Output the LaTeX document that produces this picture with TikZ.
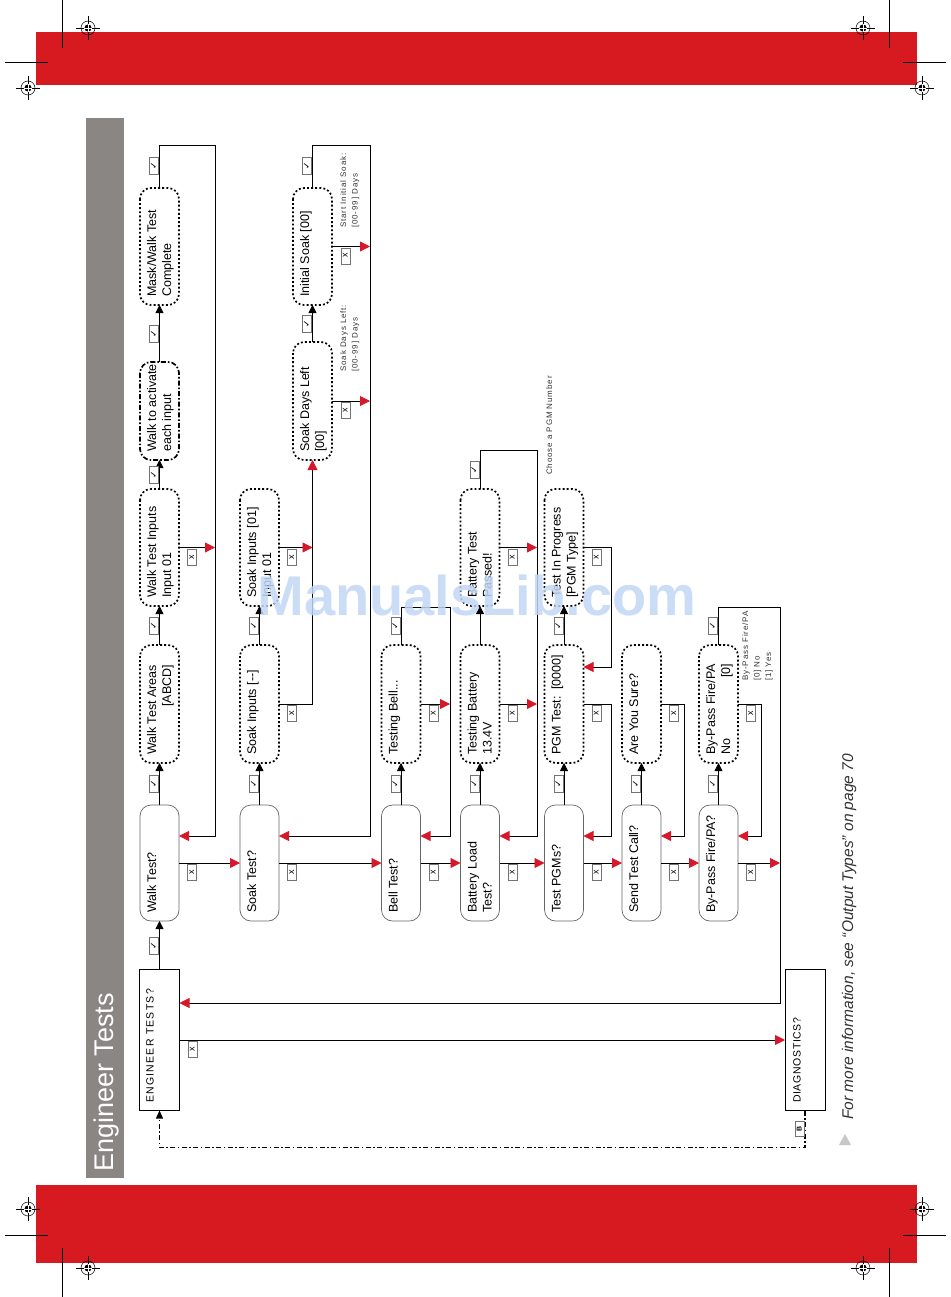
\documentclass[tikz,border=0pt]{standalone}
\usepackage{fontspec}
\setmainfont{Liberation Sans}
\newfontfamily\dejavu{DejaVu Sans}
\newfontfamily\annfont[LetterSpace=11]{Liberation Sans}
\newfontfamily\capsfont[LetterSpace=12]{Liberation Sans}
\newfontfamily\diagfont[LetterSpace=6]{Liberation Sans}
\usetikzlibrary{arrows.meta,calc}
\definecolor{bandred}{HTML}{D71920}
\definecolor{bargray}{HTML}{8A8684}
\definecolor{arrowred}{HTML}{D7182A}
\definecolor{wmblue}{HTML}{C2D8F5}
\definecolor{notegray}{HTML}{333333}
\newcommand\regmark[1]{%
  \draw[line width=0.5pt] (#1) circle[radius=7pt];
  \fill (#1) circle[radius=3.6pt];
  \draw[line width=0.5pt] ($(#1)+(-12,0)$) -- ($(#1)+(12,0)$) ($(#1)+(0,-12)$) -- ($(#1)+(0,12)$);
  \draw[white,line width=0.45pt] ($(#1)+(-3.6,0)$) -- ($(#1)+(3.6,0)$) ($(#1)+(0,-3.6)$) -- ($(#1)+(0,3.6)$);
}
\newcommand\boxtext[2]{\node[boxtxt] (t#1) at ($(#1.north west)+(5.5,-8)$) {\begin{tabular}{@{}l@{}}#2\end{tabular}};}
\begin{document}
\begin{tikzpicture}[x=1pt,y=-1pt,
  solidbox/.style={draw=black!60, line width=0.7pt, rounded corners=11pt, rotate=90, minimum height=39pt, inner sep=0pt, outer sep=0pt},
  dotbox/.style={draw=black, line width=1.7pt, dash pattern=on 1.9pt off 2.2pt, rounded corners=11pt, rotate=90, minimum height=39pt, inner sep=0pt, outer sep=0pt},
  dashdotbox/.style={dotbox, dash pattern=on 5pt off 2pt on 1.6pt off 2pt},
  rectbox/.style={draw=black, line width=0.8pt, rotate=90, minimum height=40pt, minimum width=141pt, inner sep=0pt, outer sep=0pt},
  boxtxt/.style={rotate=90, anchor=north west, inner sep=0pt, font=\fontsize{12.5}{15}\selectfont},
  ann/.style={rotate=90, anchor=north west, inner sep=0pt, align=left, text=black!80, font=\annfont\fontsize{8}{11.5}\selectfont},
  ckbox/.style={draw=black!55, fill=white, line width=0.5pt, rotate=90, minimum width=17pt, minimum height=9pt, inner sep=0pt, font=\dejavu\fontsize{9}{9}\selectfont},
  xbox/.style={ckbox, minimum width=16pt, font=\fontsize{9}{9}\selectfont},
  conn/.style={line width=0.8pt},
  blackarr/.style={conn, -{Triangle[length=8pt,width=8pt]}},
  redarr/.style={conn, -{Triangle[length=10pt,width=10pt,color=arrowred]}},
  dashdot/.style={line width=1.4pt, dash pattern=on 5pt off 2.5pt on 1.5pt off 2.5pt, -{Triangle[length=8pt,width=7pt]}}
]
\useasboundingbox (0,0) rectangle (950,1297);
\fill[white] (0,0) rectangle (950,1297);
% page furniture
\fill[bandred] (36,32) rectangle (917,85);
\fill[bandred] (36,1185) rectangle (917,1263);
\fill[bargray] (86,118) rectangle (124,1178);
\node[rotate=90, anchor=base west, inner sep=0pt, text=white, font=\fontsize{27}{30}\selectfont] (title) at (113,1172) {Engineer Tests};
\draw[line width=0.7pt] (62,0) -- (62,48) (5,62) -- (48,62) (889,0) -- (889,48) (903,62) -- (946,62)
  (5,1235) -- (48,1235) (62,1248) -- (62,1297) (903,1235) -- (946,1235) (889,1248) -- (889,1297);
\regmark{88,28}\regmark{28,88}\regmark{863,28}\regmark{922,88}
\regmark{28,1209}\regmark{88,1268}\regmark{922,1209}\regmark{863,1268}

% boxes
\node[rectbox] (et) at (159.5,1040) {};
\node[rectbox] (diag) at (805,1040) {};
\node[solidbox, minimum width=116pt] (wt) at (159.5,863) {};
\node[dotbox, minimum width=118pt] (wta) at (159.5,704) {};
\node[dotbox, minimum width=117pt] (wti) at (159.5,547.5) {};
\node[dashdotbox, minimum width=98pt] (wact) at (159.5,411) {};
\node[dotbox, minimum width=117pt] (wmc) at (159.5,246.5) {};
\node[solidbox, minimum width=116pt] (st) at (259.5,863) {};
\node[dotbox, minimum width=118pt] (si0) at (259.5,704) {};
\node[dotbox, minimum width=117pt] (si1) at (259.5,547.5) {};
\node[dotbox, minimum width=118pt] (sdl) at (312.5,401) {};
\node[dotbox, minimum width=117pt] (isk) at (312.5,246.5) {};
\node[solidbox, minimum width=116pt] (bt) at (401,863) {};
\node[dotbox, minimum width=118pt] (tb) at (401,704) {};
\node[solidbox, minimum width=116pt] (blt) at (480,863) {};
\node[dotbox, minimum width=118pt] (tbat) at (480,704) {};
\node[dotbox, minimum width=117pt] (btp) at (480,547.5) {};
\node[solidbox, minimum width=116pt] (tp) at (564,863) {};
\node[dotbox, minimum width=118pt] (pgt) at (564,704) {};
\node[dotbox, minimum width=117pt] (tip) at (564,547.5) {};
\node[solidbox, minimum width=116pt] (stc) at (641.5,863) {};
\node[dotbox, minimum width=118pt] (ays) at (641.5,704) {};
\node[solidbox, minimum width=116pt] (bp) at (718.5,863) {};
\node[dotbox, minimum width=118pt] (bp0) at (718.5,704) {};

% box texts
\node[rotate=90, anchor=base west, inner sep=0pt, font=\capsfont\fontsize{10.5}{12}\selectfont] (tet) at (153.5,1103) {ENGINEER TESTS?};
\node[rotate=90, anchor=base west, inner sep=0pt, font=\diagfont\fontsize{10.5}{12}\selectfont] (tdiag) at (800.5,1103) {DIAGNOSTICS?};
\boxtext{wt}{Walk Test?}
\boxtext{wta}{Walk Test Areas\\\hfill[ABCD]}
\boxtext{wti}{Walk Test Inputs\\Input 01}
\boxtext{wact}{Walk to activate\\each input}
\boxtext{wmc}{Mask/Walk Test\\Complete}
\boxtext{st}{Soak Test?}
\boxtext{si0}{Soak Inputs [-{}-]}
\boxtext{si1}{Soak Inputs [01]\\Input 01}
\boxtext{sdl}{Soak Days Left\\{}[00]}
\boxtext{isk}{Initial Soak [00]}
\boxtext{bt}{Bell Test?}
\boxtext{tb}{Testing Bell...}
\boxtext{blt}{Battery Load\\Test?}
\boxtext{tbat}{Testing Battery\\13.4V}
\boxtext{btp}{Battery Test\\Passed!}
\boxtext{tp}{Test PGMs?}
\boxtext{pgt}{PGM Test:\ \ [0000]}
\boxtext{tip}{Test In Progress\\{}[PGM Type]}
\boxtext{stc}{Send Test Call?}
\boxtext{ays}{Are You Sure?}
\boxtext{bp}{By-Pass Fire/PA?}
\boxtext{bp0}{By-Pass Fire/PA\\No\hfill[0]}

% bend coordinates
\coordinate (wl) at (215,836);
\coordinate (sl) at (370,836);
\coordinate (bl) at (450,836);
\coordinate (bal) at (537,836);
\coordinate (pl) at (611,836);
\coordinate (pl2) at (611,667);
\coordinate (sc) at (684,836);
\coordinate (bpl) at (761,836);
\coordinate (outer) at (780,1003);

% tick (yes) connectors
\draw[blackarr] (et.east) -- (wt.west);
\draw[blackarr] (wt.east) -- (wta.west);
\draw[blackarr] (wta.east) -- (wti.west);
\draw[blackarr] (wti.east) -- (wact.west);
\draw[blackarr] (wact.east) -- (wmc.west);
\draw[blackarr] (st.east) -- (si0.west);
\draw[blackarr] (si0.east) -- (si1.west);
\draw[blackarr] (sdl.east) -- (isk.west);
\draw[blackarr] (bt.east) -- (tb.west);
\draw[blackarr] (blt.east) -- (tbat.west);
\draw[blackarr] (tbat.east) -- (btp.west);
\draw[blackarr] (tp.east) -- (pgt.west);
\draw[blackarr] (pgt.east) -- (tip.west);
\draw[blackarr] (stc.east) -- (ays.west);
\draw[blackarr] (bp.east) -- (bp0.west);

% walk test
\draw[redarr] (wmc.east) -- ++(0,-43) -| (wl) -- (wl -| wt.south);
\draw[redarr] (wti.south) -- (wti.south -| wl);
\draw[redarr] (wt.south) -- (st.north);
% soak test
\draw[redarr] (si0.south) -- (si0.south -| sdl.west) -- (sdl.west);
\draw[redarr] (si1.south) -- (si1.south -| sdl.west);
\draw[redarr] (sdl.south) -- (sdl.south -| sl);
\draw[redarr] (isk.south) -- (isk.south -| sl);
\draw[redarr] (isk.east) -- ++(0,-43) -| (sl) -- (sl -| st.south);
\draw[redarr] (st.south) -- (bt.north);
% bell test
\draw[redarr] (tb.south) -- (tb.south -| bl);
\draw[redarr] (tb.east) -- ++(0,-38) -| (bl) -- (bl -| bt.south);
\draw[redarr] (bt.south) -- (blt.north);
% battery
\draw[redarr] (tbat.south) -- (tbat.south -| bal);
\draw[redarr] (btp.south) -- (btp.south -| bal);
\draw[redarr] (btp.east) -- ++(0,-39) -| (bal) -- (bal -| blt.south);
\draw[redarr] (blt.south) -- (tp.north);
% PGM
\draw[redarr] (tip.south) -- (tip.south -| pl2) -- (pl2) -- (pl2 -| pgt.south);
\draw[redarr] (pgt.south) -- (pgt.south -| pl) -- (pl) -- (pl -| tp.south);
\draw[redarr] (tp.south) -- (stc.north);
% send test call
\draw[redarr] (ays.south) -- (ays.south -| sc) -- (sc) -- (sc -| stc.south);
\draw[redarr] (stc.south) -- (bp.north);
% by-pass
\draw[redarr] (bp0.south) -- (bp0.south -| bpl) -- (bpl) -- (bpl -| bp.south);
\draw[redarr] (bp0.east) -- ++(0,-38) -| (outer) -- (outer -| et.south);
\draw[redarr] (bp.south) -- (bp.south -| outer);
% engineer / diagnostics
\draw[redarr] (et.south) -- (et.south -| diag.north);
\draw[dashdot] (diag.west) -- ++(0,37) -| (et.west);

% tick labels
\node[ckbox, anchor=south] (c1) at (158.5,945.5) {✓};
\node[ckbox, anchor=south] (c2) at (158.5,784) {✓};
\node[ckbox, anchor=south] (c3) at (158.5,626) {✓};
\node[ckbox, anchor=south] (c4) at (158.5,474.5) {✓};
\node[ckbox, anchor=south] (c5) at (158.5,333.5) {✓};
\node[ckbox, anchor=south] (c6) at (158.5,166) {✓};
\node[ckbox, anchor=south] (c7) at (258.5,784) {✓};
\node[ckbox, anchor=south] (c8) at (258.5,626) {✓};
\node[ckbox, anchor=south] (c9) at (311.5,323.5) {✓};
\node[ckbox, anchor=south] (c10) at (311.5,166) {✓};
\node[ckbox, anchor=south] (c11) at (400,784) {✓};
\node[ckbox, anchor=south] (c12) at (400,626) {✓};
\node[ckbox, anchor=south] (c13) at (479,784) {✓};
\node[ckbox, anchor=south] (c14) at (479,469.5) {✓};
\node[ckbox, anchor=south] (c15) at (563,784) {✓};
\node[ckbox, anchor=south] (c16) at (563,626) {✓};
\node[ckbox, anchor=south] (c17) at (640.5,784) {✓};
\node[ckbox, anchor=south] (c18) at (717.5,784) {✓};
\node[ckbox, anchor=south] (c19) at (717.5,626) {✓};
\node[ckbox, anchor=south, minimum width=15pt, font=\bfseries\fontsize{7}{7}\selectfont] (blab) at (804,1129) {B};

% x labels
\node[xbox, anchor=north east] (x1) at (187.5,1041) {x};
\node[xbox, anchor=north east] (x2) at (187,864) {x};
\node[xbox, anchor=north east] (x3) at (287,864) {x};
\node[xbox, anchor=north east] (x4) at (428.5,864) {x};
\node[xbox, anchor=north east] (x5) at (507.5,864) {x};
\node[xbox, anchor=north east] (x6) at (591.5,864) {x};
\node[xbox, anchor=north east] (x7) at (669,864) {x};
\node[xbox, anchor=north east] (x8) at (746,864) {x};
\node[xbox, anchor=north east] (x9) at (187,548.5) {x};
\node[xbox, anchor=north east] (x10) at (287,705) {x};
\node[xbox, anchor=north east] (x11) at (287,548.5) {x};
\node[xbox, anchor=north east] (x12) at (340.5,402) {x};
\node[xbox, anchor=north east] (x13) at (340.5,247.5) {x};
\node[xbox, anchor=north east] (x14) at (428.5,705) {x};
\node[xbox, anchor=north east] (x15) at (507.5,705) {x};
\node[xbox, anchor=north east] (x16) at (507.5,548.5) {x};
\node[xbox, anchor=north east] (x17) at (591.5,705) {x};
\node[xbox, anchor=north east] (x18) at (591.5,548.5) {x};
\node[xbox, anchor=north east] (x19) at (669,705) {x};
\node[xbox, anchor=north east] (x20) at (746,705) {x};

% annotations
\node[ann] (a1) at (340,372) {Soak Days Left:\\{}[00-99] Days};
\node[ann] (a2) at (340,228) {Start Initial Soak:\\{}[00-99] Days};
\node[ann] (a3) at (546,475) {Choose a PGM Number};
\node[ann] (a4) at (742,681) {By-Pass Fire/PA\\{}[0] No\\{}[1] Yes};

% footnote
\node[rotate=90, anchor=base west, inner sep=0pt, text=notegray, font=\itshape\fontsize{15.5}{18}\selectfont] (note) at (853,1120) {For more information, see “Output Types” on page 70};
\fill[black!22] (839,1145) -- (851,1145) -- (845,1134) -- cycle;

% watermark
\node[anchor=base, inner sep=0pt, text=wmblue, opacity=0.85, font=\bfseries\fontsize{56}{60}\selectfont] (wm) at (477,615) {ManualsLib.com};
\end{tikzpicture}
\end{document}
